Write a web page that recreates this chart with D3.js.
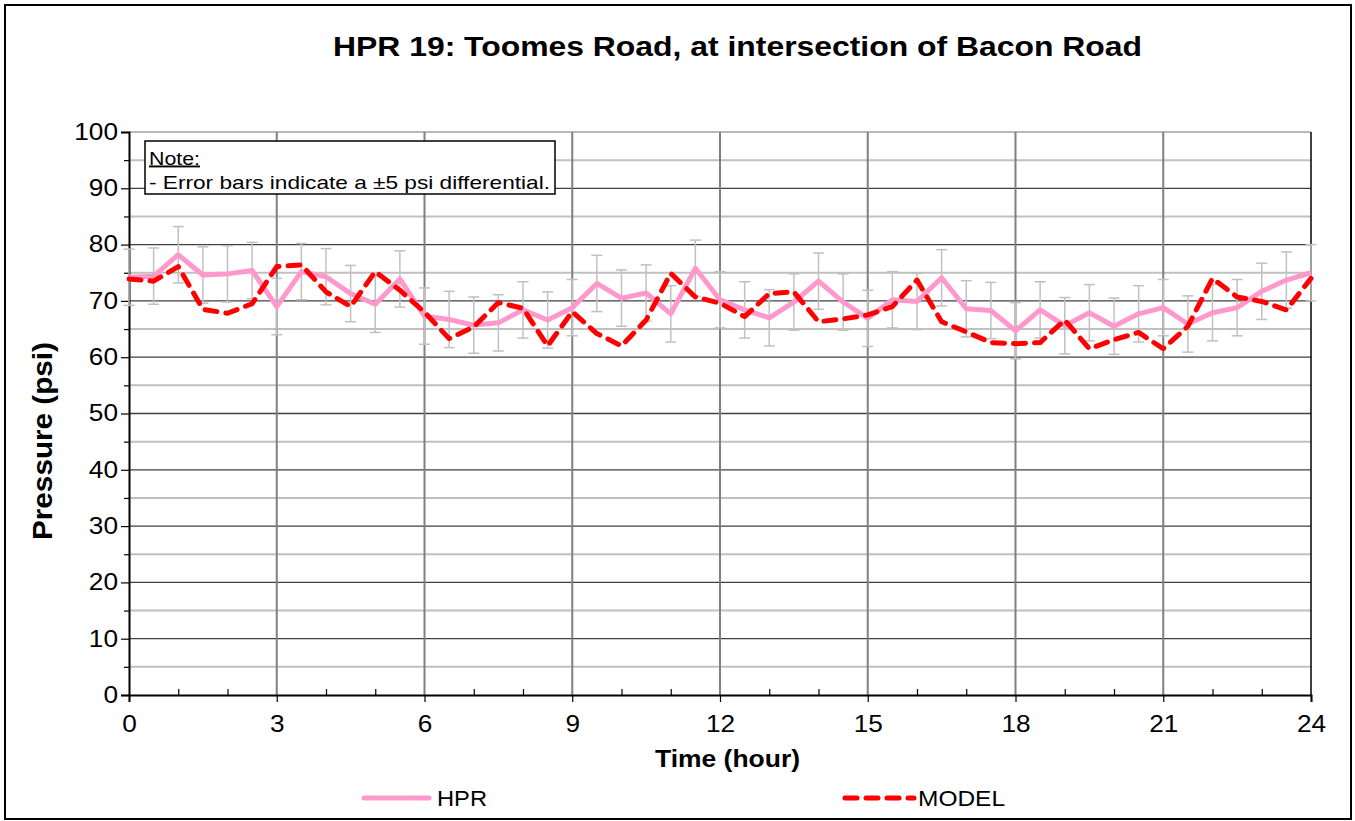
<!DOCTYPE html>
<html>
<head>
<meta charset="utf-8">
<script src="https://cdn.jsdelivr.net/npm/d3@7"></script>
<style>
  body { margin: 0; background: #fff; }
  text { font-family: Arial, "Liberation Sans", sans-serif; }
</style>
</head>
<body>
<script>
// time of each reading (hours)
const hours = [0, 0.5, 1, 1.5, 2, 2.5, 3, 3.5, 4, 4.5, 5, 5.5, 6, 6.5, 7, 7.5, 8, 8.5,
  9, 9.5, 10, 10.5, 11, 11.5, 12, 12.5, 13, 13.5, 14, 14.5, 15, 15.5, 16, 16.5, 17, 17.5,
  18, 18.5, 19, 19.5, 20, 20.5, 21, 21.5, 22, 22.5, 23, 23.5, 24];

// measured pressure (psi)
const hpr = [74.2, 74.4, 78.2, 74.6, 74.8, 75.4, 69.0, 75.2, 74.3, 71.3, 69.4, 73.9, 67.3,
  66.7, 65.7, 66.1, 68.4, 66.6, 68.8, 73.1, 70.5, 71.4, 67.7, 75.8, 70.2, 68.4, 67.0, 69.8,
  73.5, 69.8, 66.9, 70.2, 69.9, 74.1, 68.6, 68.3, 64.7, 68.4, 65.6, 67.9, 65.5, 67.7, 68.8,
  65.9, 67.9, 68.8, 71.7, 73.7, 75.0];

// model pressure (psi)
const model = [73.9, 73.5, 76.1, 68.5, 67.8, 69.5, 76.1, 76.4, 71.6, 69.0, 75.2, 71.9, 68.0,
  63.3, 65.4, 69.7, 68.7, 62.0, 68.1, 64.2, 62.0, 66.6, 74.9, 70.7, 69.6, 67.2, 71.3, 71.6,
  66.3, 66.8, 67.5, 69.0, 73.7, 66.3, 64.5, 62.6, 62.4, 62.6, 66.6, 61.5, 63.1, 64.4, 61.5,
  65.5, 74.0, 70.7, 69.9, 68.4, 74.0];

const errBar = 5; // +/- psi

const xTicks = [0, 3, 6, 9, 12, 15, 18, 21, 24];
const xMinor = [1, 2, 4, 5, 7, 8, 10, 11, 13, 14, 16, 17, 19, 20, 22, 23];
const yTicks = [0, 10, 20, 30, 40, 50, 60, 70, 80, 90, 100];
const yMinor = [5, 15, 25, 35, 45, 55, 65, 75, 85, 95];

const W = 1355, H = 821;
const pL = 129, pR = 1311, pT = 132, pB = 695;
const stretch = 1.14; // the source font renders a bit wide

const svg = d3.select("body").append("svg")
  .attr("width", W).attr("height", H);

// stretch text to a given width
function fit(sel, len) {
  return sel.attr("textLength", len).attr("lengthAdjust", "spacingAndGlyphs");
}

// outer frame
svg.append("rect")
  .attr("x", 5).attr("y", 5).attr("width", 1346).attr("height", 814)
  .attr("fill", "#fff").attr("stroke", "#000").attr("stroke-width", 2);

const x = d3.scaleLinear().domain([0, 24]).range([pL, pR]);
const y = d3.scaleLinear().domain([0, 100]).range([pB, pT]);

// minor horizontal grid
svg.append("g").selectAll("line").data(yMinor).enter().append("line")
  .attr("x1", pL).attr("x2", pR)
  .attr("y1", d => y(d)).attr("y2", d => y(d))
  .attr("stroke", "#c0c0c0").attr("stroke-width", 2);

// major horizontal grid
svg.append("g").selectAll("line").data(yTicks.filter(d => d > 0)).enter().append("line")
  .attr("x1", pL).attr("x2", pR)
  .attr("y1", d => y(d)).attr("y2", d => y(d))
  .attr("stroke", d => d === 100 ? "#a0a0a0" : "#404040").attr("stroke-width", 1.3);

// vertical grid
svg.append("g").selectAll("line").data(xTicks.filter(d => d > 0 && d < 24)).enter().append("line")
  .attr("x1", d => x(d)).attr("x2", d => x(d))
  .attr("y1", pT).attr("y2", pB)
  .attr("stroke", "#808080").attr("stroke-width", 2);

// right border
svg.append("line")
  .attr("x1", pR).attr("x2", pR).attr("y1", pT).attr("y2", pB)
  .attr("stroke", "#000").attr("stroke-width", 1.5);

// x axis
const xAxis = svg.append("g").attr("transform", `translate(0,${pB})`)
  .call(d3.axisBottom(x).tickValues(xTicks).tickSize(7).tickPadding(14).tickFormat(d3.format("d")));
const xMin = svg.append("g").attr("transform", `translate(0,${pB})`)
  .call(d3.axisTop(x).tickValues(xMinor).tickSize(6).tickFormat(""));
xMin.select(".domain").remove();

// y axis
const yAxis = svg.append("g").attr("transform", `translate(${pL},0)`)
  .call(d3.axisLeft(y).tickValues(yTicks).tickSize(8).tickPadding(3));
const yMin = svg.append("g").attr("transform", `translate(${pL},0)`)
  .call(d3.axisLeft(y).tickValues(yMinor).tickSize(5).tickFormat(""));
yMin.select(".domain").remove();

[xAxis, yAxis, xMin, yMin].forEach(g => {
  g.selectAll("line").attr("stroke", "#000").attr("stroke-width", 1.2);
  g.select(".domain").attr("stroke", "#000").attr("stroke-width", 2);
  g.selectAll("text").attr("font-size", 23).attr("fill", "#000")
    .attr("font-family", "Arial, 'Liberation Sans', sans-serif")
    .attr("transform", `scale(${stretch},1)`);
});
yAxis.selectAll("text").attr("x", -11 / stretch);

// error bars on HPR
const eb = svg.append("g").attr("stroke", "#c0c0c0").attr("stroke-width", 1.5);
hours.forEach((h, i) => {
  const cx = x(h), y0 = y(hpr[i] - errBar), y1 = y(hpr[i] + errBar);
  eb.append("line").attr("x1", cx).attr("x2", cx).attr("y1", y0).attr("y2", y1);
  eb.append("line").attr("x1", cx - 5.5).attr("x2", cx + 5.5).attr("y1", y0).attr("y2", y0);
  eb.append("line").attr("x1", cx - 5.5).attr("x2", cx + 5.5).attr("y1", y1).attr("y2", y1);
});

const line = d3.line().x(d => x(d[0])).y(d => y(d[1]));

svg.append("path")
  .datum(hours.map((h, i) => [h, hpr[i]]))
  .attr("d", line)
  .attr("fill", "none").attr("stroke", "#ff99cc").attr("stroke-width", 5)
  .attr("stroke-linejoin", "round");

svg.append("path")
  .datum(hours.map((h, i) => [h, model[i]]))
  .attr("d", line)
  .attr("fill", "none").attr("stroke", "#ff0000").attr("stroke-width", 5)
  .attr("stroke-dasharray", "12,9").attr("stroke-linecap", "round")
  .attr("stroke-linejoin", "round");

// title
fit(svg.append("text")
  .attr("x", 333).attr("y", 56)
  .attr("font-size", 28).attr("font-weight", "bold")
  .text("HPR 19: Toomes Road, at intersection of Bacon Road"), 809);

// axis titles
fit(svg.append("text")
  .attr("x", 655).attr("y", 767)
  .attr("font-size", 24).attr("font-weight", "bold")
  .text("Time (hour)"), 145);

fit(svg.append("text")
  .attr("transform", "translate(52,540) rotate(-90)")
  .attr("font-size", 27).attr("font-weight", "bold")
  .text("Pressure (psi)"), 198);

// note box
svg.append("rect")
  .attr("x", 145).attr("y", 141).attr("width", 410).attr("height", 53)
  .attr("fill", "#fff").attr("stroke", "#000").attr("stroke-width", 1.5);
fit(svg.append("text")
  .attr("x", 149).attr("y", 164.5).attr("font-size", 19)
  .attr("text-decoration", "underline")
  .text("Note:"), 51);
fit(svg.append("text")
  .attr("x", 149).attr("y", 189).attr("font-size", 19)
  .text("- Error bars indicate a \u00b15 psi differential."), 401);

// legend
const lg = svg.append("g");
lg.append("line").attr("x1", 364).attr("x2", 429).attr("y1", 798).attr("y2", 798)
  .attr("stroke", "#ff99cc").attr("stroke-width", 5).attr("stroke-linecap", "round");
fit(lg.append("text").attr("x", 437).attr("y", 806).attr("font-size", 22).text("HPR"), 50);
lg.append("line").attr("x1", 845).attr("x2", 914).attr("y1", 798).attr("y2", 798)
  .attr("stroke", "#ff0000").attr("stroke-width", 5)
  .attr("stroke-dasharray", "12,9").attr("stroke-linecap", "round");
fit(lg.append("text").attr("x", 918).attr("y", 806).attr("font-size", 22).text("MODEL"), 87);
</script>
</body>
</html>
